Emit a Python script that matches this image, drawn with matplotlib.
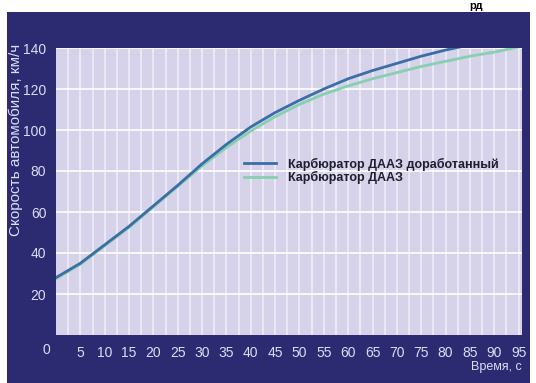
import numpy as np
import matplotlib.pyplot as plt
from matplotlib.patches import Rectangle

plt.rcParams['font.family'] = ['Liberation Sans', 'DejaVu Sans']

# time, s
t_mod = [0, 5, 10, 15, 20, 25, 30, 35, 40, 45, 50, 55, 60, 65, 70, 75, 80, 85]
t_base = [0, 5, 10, 15, 20, 25, 30, 35, 40, 45, 50, 55, 60, 65, 70, 75, 80, 85, 90, 95]

# speed, km/h
v_mod = [28, 35, 44, 53, 63, 73, 83.5, 93, 101.5, 108.5, 114.5, 120, 125, 129, 132.5, 136,
         139, 141.5]
v_base = [27.5, 34.5, 43.5, 52.5, 62.5, 72.5, 82.5, 91.5, 99.5, 106.5, 112.5, 117.5, 121.5,
          125, 128, 131, 133.5, 136, 138, 140.5]

x_ticks = [5, 10, 15, 20, 25, 30, 35, 40, 45, 50, 55, 60, 65, 70, 75, 80, 85, 90, 95]
y_ticks = [20, 40, 60, 80, 100, 120, 140]

labels = ['Карбюратор ДААЗ доработанный', 'Карбюратор ДААЗ']

navy = '#2c2b72'
tick_col = '#dcdcf6'

fig = plt.figure(figsize=(5.36, 3.83), dpi=100, facecolor='white')
fig.patches.append(Rectangle((7 / 536, 0), 523 / 536, 371 / 383, transform=fig.transFigure,
                             facecolor=navy, edgecolor='none', zorder=-5))
fig.text(0.875, 0.998, 'рд', fontsize=8, fontweight='bold', color='black', va='top')

ax = fig.add_axes([56 / 536, 48 / 383, 466 / 536, 287 / 383])
ax.set_zorder(2)
ax.set_facecolor('#d5d2e9')

ax.plot(t_mod, v_mod, color='#3b6ea6', lw=2, label=labels[0], zorder=3)
ax.plot(t_base, v_base, color='#86d0b0', lw=2, label=labels[1], zorder=2)

ax.set_xlim(0, 95.7)
ax.set_ylim(0, 140)
ax.set_xticks(x_ticks)
ax.set_yticks(y_ticks)
ax.set_xticks(np.arange(2.5, 95.7, 2.5), minor=True)
ax.grid(True, which='major', axis='y', color='white', lw=1.2)
ax.grid(True, which='both', axis='x', color='#f2f0fa', lw=1.1)
ax.set_axisbelow(True)
ax.tick_params(which='both', length=0)
ax.tick_params(axis='x', pad=8, colors=tick_col, labelsize=10)
ax.tick_params(axis='y', pad=7, colors=tick_col, labelsize=10)
for s in ax.spines.values():
    s.set_visible(False)

ax.text(-0.012, -0.028, '0', transform=ax.transAxes, color=tick_col, fontsize=10,
        ha='right', va='top')
ax.text(1.0, -0.09, 'Время, с', transform=ax.transAxes, color=tick_col, fontsize=9,
        ha='right', va='top')
fig.text(16 / 536, 1 - 44 / 383, 'Скорость автомобиля, км/ч', rotation=90, color=tick_col,
         fontsize=11, ha='center', va='top', zorder=3)

ax.legend(loc='upper left', bbox_to_anchor=(0.39, 0.64), frameon=False,
          prop={'size': 9, 'weight': 'bold'}, handlelength=2.6, borderpad=0,
          labelspacing=0.05, handletextpad=0.9, labelcolor='#1e1e30')

fig.savefig('out.png', dpi=100, facecolor='white')
